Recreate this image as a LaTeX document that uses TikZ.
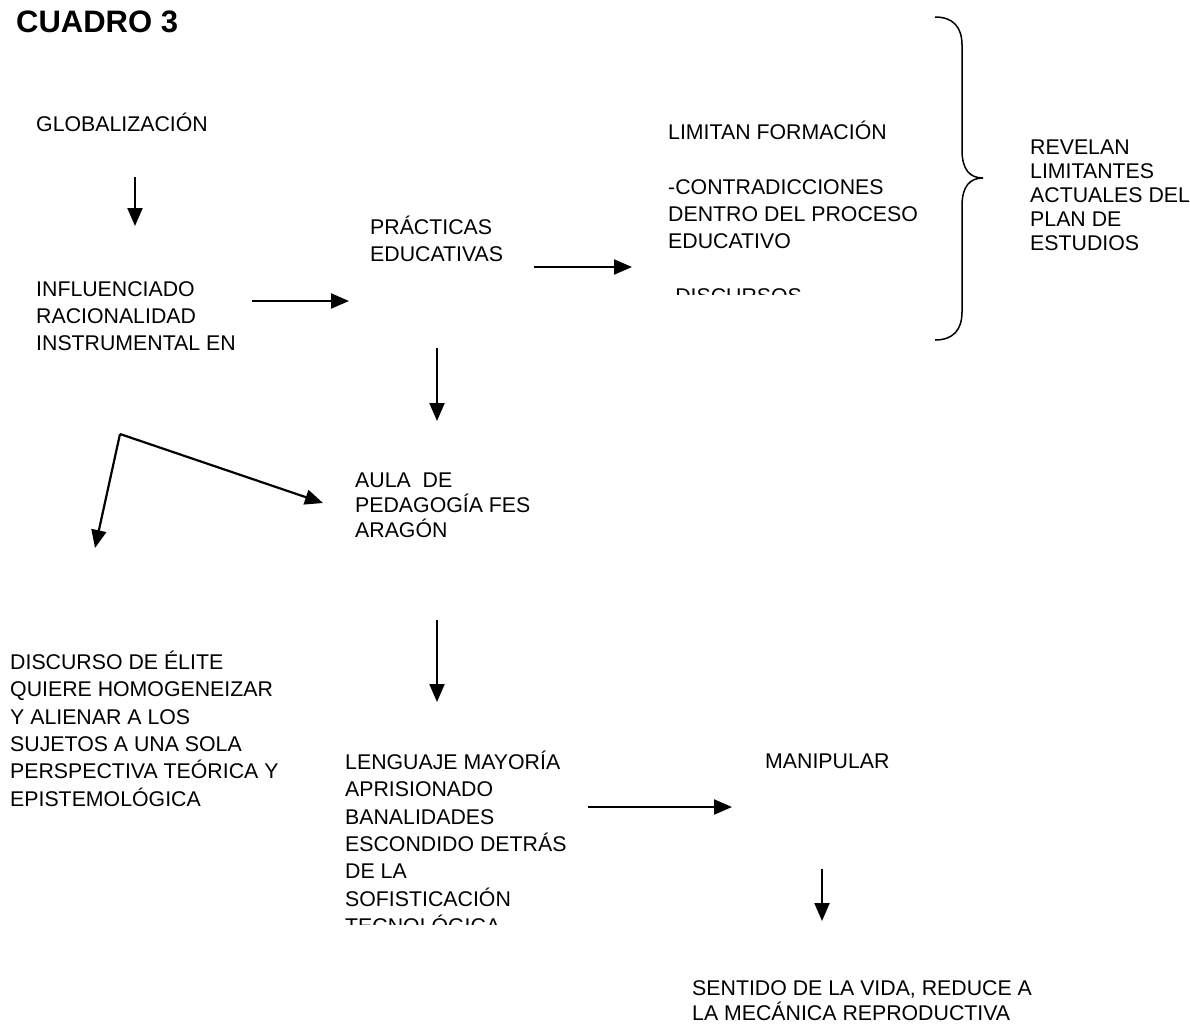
\documentclass[tikz,border=0pt]{standalone}
\usepackage{fontspec}
\setmainfont{Liberation Sans}
\usetikzlibrary{arrows.meta}

\begin{document}
\begin{tikzpicture}[
  x=1pt, y=-1pt,
  font=\fontsize{21.3}{27.3}\selectfont,
  texto/.style={anchor=base west, align=left, inner sep=0pt},
  flecha/.style={line width=2.2pt, -{Triangle[length=18pt, width=15pt]}},
]
\useasboundingbox (0,0) rectangle (1190,1028);

\node[texto, font=\fontsize{31}{36}\selectfont\bfseries] (cuadro) at (16, 32) {CUADRO 3};

% multi-line nodes sit on the baseline of their last line
\node[texto] (glob) at (36, 131.5) {GLOBALIZACIÓN};
\node[texto] (infl) at (36, 350.6) {INFLUENCIADO\\RACIONALIDAD\\INSTRUMENTAL EN};
\node[texto] (practicas) at (370, 261.3) {PRÁCTICAS\\EDUCATIVAS};

\begin{scope}
  \clip (600, 100) rectangle (940, 294);
  \node[texto] (limitan) at (668, 303.3)
    {LIMITAN FORMACIÓN\\[27.3pt]-CONTRADICCIONES\\DENTRO DEL PROCESO\\EDUCATIVO\\[27.3pt]-DISCURSOS};
\end{scope}

\node[texto, font=\fontsize{21.3}{24}\selectfont] (revelan) at (1030, 250.5)
  {REVELAN\\LIMITANTES\\ACTUALES DEL\\PLAN DE\\ESTUDIOS};

% brace
\draw[line width=1.5pt]
  (935,17) .. controls (953,17) and (962,27) .. (962,45) -- (962,150)
  .. controls (962,170) and (970,178) .. (983,178)
  .. controls (970,178) and (962,186) .. (962,206) -- (962,312)
  .. controls (962,330) and (953,340) .. (935,340);

\node[texto, font=\fontsize{21.3}{25}\selectfont] (aula) at (355, 537.5)
  {AULA\ \ DE\\PEDAGOGÍA FES\\ARAGÓN};
\node[texto] (elite) at (10, 806)
  {DISCURSO DE ÉLITE\\QUIERE HOMOGENEIZAR\\Y ALIENAR A LOS\\SUJETOS A UNA SOLA\\PERSPECTIVA TEÓRICA Y\\EPISTEMOLÓGICA};

\begin{scope}
  \clip (300, 740) rectangle (620, 924);
  \node[texto] (lenguaje) at (345, 933.3)
    {LENGUAJE MAYORÍA\\APRISIONADO\\BANALIDADES\\ESCONDIDO DETRÁS\\DE LA\\SOFISTICACIÓN\\TECNOLÓGICA};
\end{scope}

\node[texto] (manipular) at (765, 768.5) {MANIPULAR};
\node[texto, font=\fontsize{21.3}{25}\selectfont] (sentido) at (692, 1020.5)
  {SENTIDO DE LA VIDA, REDUCE A\\LA MECÁNICA REPRODUCTIVA};

% arrow ends
\coordinate (glob-s) at (135, 177);
\coordinate (infl-n) at (135, 226);
\coordinate (infl-e) at (252, 301);
\coordinate (prac-w) at (349, 301);
\coordinate (prac-e) at (534, 267);
\coordinate (lim-w) at (632, 267);
\coordinate (prac-s) at (437, 348);
\coordinate (aula-n) at (437, 421);
\coordinate (codo) at (120, 434);
\coordinate (elite-n) at (95, 548);
\coordinate (aula-w) at (323, 503);
\coordinate (aula-s) at (437, 620);
\coordinate (leng-n) at (437, 702);
\coordinate (leng-e) at (588, 807);
\coordinate (manip-w) at (732, 807);
\coordinate (manip-s) at (822, 869);
\coordinate (sent-n) at (822, 921);

\draw[flecha] (glob-s) -- (infl-n);
\draw[flecha] (infl-e) -- (prac-w);
\draw[flecha] (prac-e) -- (lim-w);
\draw[flecha] (prac-s) -- (aula-n);
\draw[flecha] (codo) -- (elite-n);
\draw[flecha] (codo) -- (aula-w);
\draw[flecha] (aula-s) -- (leng-n);
\draw[flecha] (leng-e) -- (manip-w);
\draw[flecha] (manip-s) -- (sent-n);

\end{tikzpicture}
\end{document}
